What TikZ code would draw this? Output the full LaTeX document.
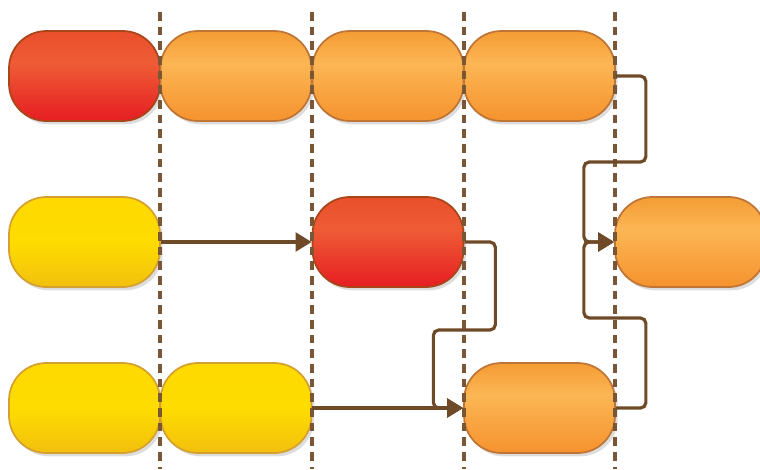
\documentclass[tikz,border=0pt]{standalone}
\usetikzlibrary{arrows.meta,shadows}
\definecolor{lineBrown}{HTML}{6E4A28}
\definecolor{laneBrown}{HTML}{7A5634}
\definecolor{redTop}{HTML}{EA4F2C}
\definecolor{redMid}{HTML}{EE5C36}
\definecolor{redBot}{HTML}{E61D22}
\definecolor{redLine}{HTML}{A8461A}
\definecolor{orTop}{HTML}{F49C34}
\definecolor{orMid}{HTML}{FCB654}
\definecolor{orBot}{HTML}{F5922E}
\definecolor{orLine}{HTML}{BF7536}
\definecolor{yeTop}{HTML}{FFD900}
\definecolor{yeMid}{HTML}{FEDC00}
\definecolor{yeBot}{HTML}{F2C00E}
\definecolor{yeLine}{HTML}{D4A030}
\pgfdeclareverticalshading{orshade}{100bp}{color(0bp)=(orBot); color(25bp)=(orBot); color(57bp)=(orMid); color(75bp)=(orTop); color(100bp)=(orTop)}
\pgfdeclareverticalshading{redshade}{100bp}{color(0bp)=(redBot); color(25bp)=(redBot); color(57bp)=(redMid); color(75bp)=(redTop); color(100bp)=(redTop)}
\pgfdeclareverticalshading{yeshade}{100bp}{color(0bp)=(yeBot); color(25bp)=(yeBot); color(50bp)=(yeMid); color(75bp)=(yeTop); color(100bp)=(yeTop)}
\tikzset{
  pill/.style={rectangle, rounded corners=28pt, minimum width=113.25pt,
    minimum height=67.5pt, inner sep=0pt, line width=1.3pt,
    drop shadow={shadow xshift=2pt, shadow yshift=-2.5pt, opacity=0.22, fill=black!60}},
  redpill/.style={pill, draw=redLine, shade, shading=redshade},
  orpill/.style={pill, draw=orLine, shade, shading=orshade},
  yepill/.style={pill, draw=yeLine, shade, shading=yeshade},
  lane/.style={draw=laneBrown, line width=2.3pt, dash pattern=on 6.5pt off 4.5pt},
  conn/.style={draw=lineBrown, line width=2.4pt, rounded corners=4pt,
    -{Triangle[length=12pt,width=14pt]}},
}
\begin{document}
\begin{tikzpicture}[x=0.75pt,y=-0.75pt]
\useasboundingbox (0,0) rectangle (760,469);
\begin{scope}
\clip (0,0) rectangle (760,469);
% row 1
\node[redpill] (a1) at (84.5,76) {};
\node[orpill] (a2) at (236,76) {};
\node[orpill] (a3) at (388,76) {};
\node[orpill] (a4) at (539.5,76) {};
% row 2
\node[yepill] (b1) at (84.5,242) {};
\node[redpill] (b3) at (388,242) {};
\node[orpill] (b5) at (690.5,242) {};
% row 3
\node[yepill] (c1) at (84.5,408) {};
\node[yepill] (c2) at (236,408) {};
\node[orpill] (c4) at (539.5,408) {};
% lanes
\foreach \xx in {160,312,464,615}
  \draw[lane] (\xx,12) -- (\xx,469);
% connectors
\draw[conn] (a4.east) -- ++(30,0) -- ++(0,86) -- ++(-62,0) |- (b5.west);
\draw[conn] (b1.east) -- (b3.west);
\draw[conn] (b3.east) -- ++(31,0) -- ++(0,88) -- ++(-62,0) |- (c4.west);
\draw[conn] (c2.east) -- (c4.west);
\draw[conn] (c4.east) -- ++(30,0) -- ++(0,-90) -- ++(-62,0) |- (b5.west);
\end{scope}
\end{tikzpicture}
\end{document}
